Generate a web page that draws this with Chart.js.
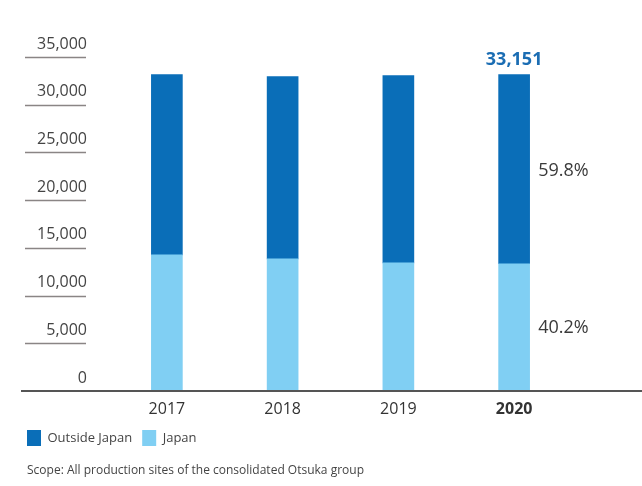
<!DOCTYPE html>
<html>
<head>
<meta charset="utf-8">
<script src="https://cdn.jsdelivr.net/npm/chart.js@4.4.1/dist/chart.umd.min.js"></script>
<style>
  html, body { margin: 0; padding: 0; background: #fff; }
  #wrap { position: relative; width: 642px; height: 486px; }
  #note { position: absolute; left: 27px; top: 461px; font: 12px 'Open Sans', sans-serif; color: #444; white-space: nowrap; }
</style>
</head>
<body>
<div id="wrap">
  <canvas id="chart" width="642" height="486"></canvas>
  <div id="note">Scope: All production sites of the consolidated Otsuka group</div>
</div>
<script>
// Chart data
const years = ['2017', '2018', '2019', '2020'];
const japan = [14270, 13850, 13430, 13330];
const outsideJapan = [18880, 19100, 19620, 19821];
const yTicks = [0, 5000, 10000, 15000, 20000, 25000, 30000, 35000];

const darkBlue = '#0a6eb8';
const lightBlue = '#80cff3';
const textColor = '#444444';

// Underlines under the y labels, the long baseline and the labels on the 2020 bar
const decorPlugin = {
    id: 'decor',
    afterDraw(chart) {
        const ctx = chart.ctx;
        const y = chart.scales.y;
        ctx.save();

        // short lines under each y tick label
        ctx.strokeStyle = '#8a8585';
        ctx.lineWidth = 1.5;
        yTicks.forEach(v => {
            if (v === 0) return;
            const py = Math.round(y.getPixelForValue(v)) + 0.5;
            ctx.beginPath();
            ctx.moveTo(25, py);
            ctx.lineTo(86, py);
            ctx.stroke();
        });

        // baseline across the whole width
        const y0 = y.getPixelForValue(0);
        ctx.strokeStyle = '#555555';
        ctx.lineWidth = 2;
        ctx.beginPath();
        ctx.moveTo(21, y0);
        ctx.lineTo(642, y0);
        ctx.stroke();

        // total and share labels for the last year
        const last = years.length - 1;
        const topBar = chart.getDatasetMeta(1).data[last];
        const lowBar = chart.getDatasetMeta(0).data[last];
        const total = japan[last] + outsideJapan[last];

        ctx.fillStyle = '#1b6db3';
        ctx.font = 'bold 18px "Open Sans"';
        ctx.textAlign = 'center';
        ctx.textBaseline = 'middle';
        ctx.fillText(total.toLocaleString('en-US'), topBar.x, topBar.y - 15);

        ctx.fillStyle = '#3a3a3a';
        ctx.font = '18px "Open Sans"';
        ctx.textAlign = 'left';
        const px = topBar.x + 24;
        ctx.fillText((outsideJapan[last] / total * 100).toFixed(1) + '%', px, (topBar.y + topBar.base) / 2 + 2);
        ctx.fillText((japan[last] / total * 100).toFixed(1) + '%', px, (lowBar.y + lowBar.base) / 2);

        ctx.restore();
    }
};

const ctx = document.getElementById('chart').getContext('2d');

const chart = new Chart(ctx, {
    type: 'bar',
    data: {
        labels: years,
        datasets: [
            { label: 'Japan', data: japan, backgroundColor: lightBlue, barThickness: 31 },
            { label: 'Outside Japan', data: outsideJapan, backgroundColor: darkBlue, barThickness: 31 }
        ]
    },
    options: {
        responsive: false,
        animation: false,
        layout: {
            padding: { left: 17, right: 70, top: 57, bottom: 30 }
        },
        scales: {
            x: {
                stacked: true,
                grid: { display: false },
                border: { display: false },
                ticks: {
                    color: '#333333',
                    padding: 1,
                    font: c => ({ family: 'Open Sans', size: 16, weight: c.index === 3 ? 'bold' : 'normal' })
                },
                afterFit: s => { s.height = 29; }
            },
            y: {
                stacked: true,
                min: 0,
                max: 35000,
                grid: { display: false },
                border: { display: false },
                ticks: {
                    stepSize: 5000,
                    color: textColor,
                    padding: 14,
                    labelOffset: -13,
                    font: { family: 'Open Sans', size: 16 },
                    callback: v => v.toLocaleString('en-US')
                },
                afterFit: s => { s.width = 92; }
            }
        },
        plugins: {
            legend: {
                position: 'bottom',
                align: 'start',
                reverse: true,
                labels: {
                    boxWidth: 14,
                    boxHeight: 16,
                    padding: 10,
                    color: textColor,
                    font: { family: 'Open Sans', size: 13 }
                }
            },
            tooltip: { enabled: false }
        }
    },
    plugins: [decorPlugin]
});
</script>
</body>
</html>
